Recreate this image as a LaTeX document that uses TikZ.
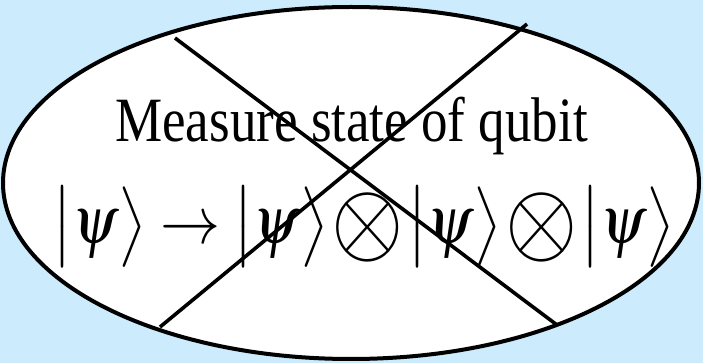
\documentclass[tikz,border=0pt]{standalone}
\usepackage{amsmath}
\usepackage{mathptmx}
\usepackage{fontspec}
\setmainfont{Liberation Serif}
\usepackage{tikz}
\usetikzlibrary{positioning,calc}
\definecolor{qbsky}{HTML}{CCEBFC}
\definecolor{qbink}{HTML}{000000}
\newcommand{\qket}[1]{\left|\vphantom{\big\rangle}#1\right\rangle}
\newcommand{\qtimes}{\mathbin{\vcenter{\hbox{\scalebox{1.55}{$\otimes$}}}}}

\begin{document}
\begin{tikzpicture}[
  x=0.5pt, y=-0.5pt,
  rim/.style={draw=qbink, line width=2pt, fill=white},
  veto/.style={draw=qbink, line width=1.8pt},
  title/.style={inner sep=0pt, font=\fontsize{26.5}{30}\selectfont, yscale=1.19, transform shape},
  formula/.style={inner sep=0pt, font=\fontsize{30}{34}\selectfont, yscale=1.12, transform shape}
]
\fill[qbsky] (0,0) rectangle (703,363);
\useasboundingbox (0,0) rectangle (703,363);
\path[rim] (351,183) ellipse [x radius=348, y radius=176];

\node[title, anchor=base] (ask) at (351.5,142) {Measure state of qubit};
\node[formula] (copy) at (364,227)
  {$\medmuskip=1mu\qket{\psi}\rightarrow\qket{\psi}\qtimes\qket{\psi}\qtimes\qket{\psi}$};

% the cross over it
\coordinate (nw) at (175,38);
\coordinate (se) at (557,325);
\coordinate (ne) at (527,24);
\coordinate (sw) at (160,327);
\draw[veto] (nw) -- (se);
\draw[veto] (ne) -- (sw);
\end{tikzpicture}
\end{document}
